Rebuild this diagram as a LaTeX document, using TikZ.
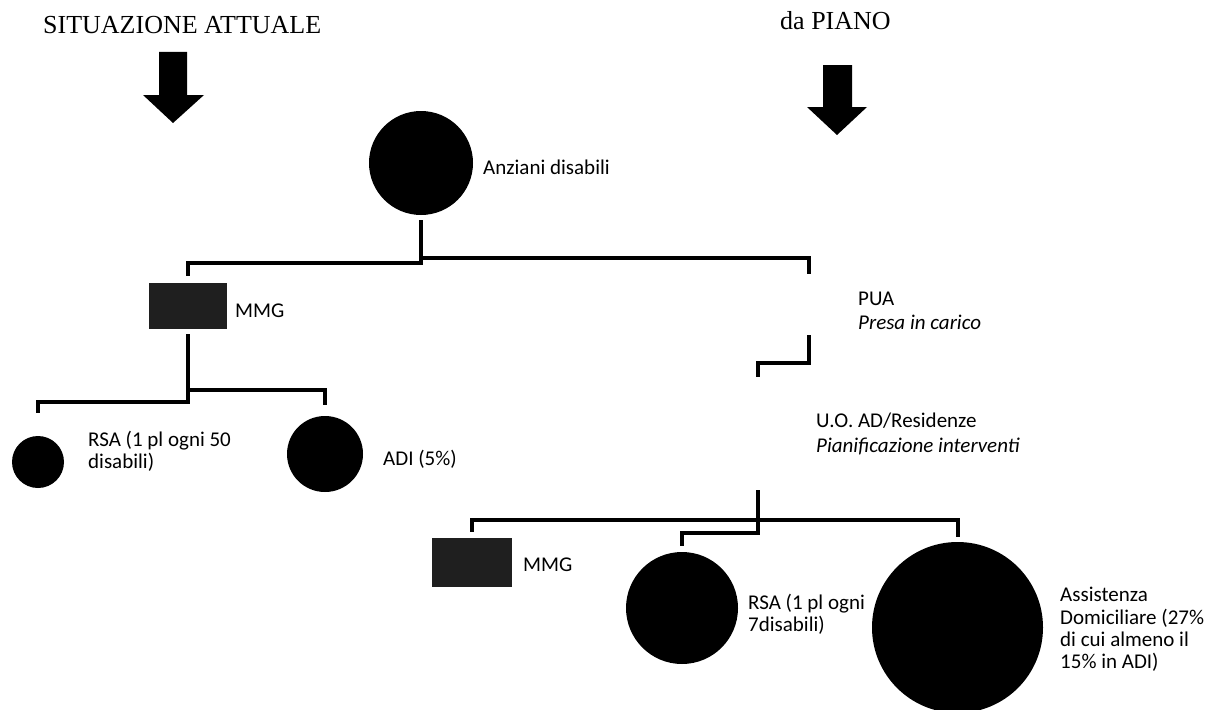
\documentclass[tikz,border=0pt]{standalone}
\usepackage{fontspec}
\setmainfont{Liberation Serif}
\newfontfamily\calib{Carlito}
\begin{document}
\begin{tikzpicture}[x=1pt,y=-1pt,
  conn/.style={line width=4pt, line join=miter},
  dot/.style={circle, fill=black, inner sep=0pt, minimum size=#1},
  ghost/.style={circle, draw=none, inner sep=0pt, minimum size=#1},
  box/.style={rectangle, fill=black!88, inner sep=0pt, minimum width=78pt, minimum height=46pt},
  lbl/.style={font=\calib\fontsize{21}{22}\selectfont, inner sep=0pt, align=left},
  ttl/.style={font=\fontsize{26}{30}\selectfont, inner sep=0pt}]
\useasboundingbox (0,0) rectangle (1206,709);

% titles and big arrows
\node[ttl, anchor=base west] (t1) at (43,34) {SITUAZIONE ATTUALE};
\node[ttl, anchor=base west] (t2) at (780,30) {da PIANO};
\fill (159,52) -- (187,52) -- (187,95) -- (204,95) -- (173,123) -- (143,95) -- (159,95) -- cycle;
\fill (823,65) -- (852,65) -- (852,107) -- (867,107) -- (837,135) -- (807,107) -- (823,107) -- cycle;

% nodes
\node[dot=104pt] (anz) at (421,163) {};
\node[lbl, anchor=base west] (anzt) at (483,174.5) {Anziani disabili};
\node[box] (mmg1) at (188,305.5) {};
\node[lbl, anchor=base west] (mmg1t) at (235,317.5) {MMG};
\node[dot=52pt] (rsa1) at (38,462) {};
\node[lbl, anchor=west] (rsa1t) at (88,451.5) {RSA (1 pl ogni 50\\disabili)};
\node[dot=76pt] (adi) at (325,454) {};
\node[lbl, anchor=base west] (adit) at (383,465.5) {ADI (5\%)};
\node[ghost=60pt] (pua) at (809,305) {};
\node[lbl, anchor=west] (puat) at (858,310.5) {PUA\\[2pt]\textit{Presa in carico}};
\node[ghost=113pt] (uo) at (758,433.5) {};
\node[lbl, anchor=west] (uot) at (816,434) {U.O. AD/Residenze\\[3pt]\textit{Pianificazione interventi}};
\node[box, minimum width=80pt, minimum height=49pt] (mmg2) at (472,562.5) {};
\node[lbl, anchor=base west] (mmg2t) at (523,571.5) {MMG};
\node[dot=112pt] (rsa2) at (682,608) {};
\node[lbl, anchor=west] (rsa2t) at (748,614.5) {RSA (1 pl ogni\\7disabili)};
\node[dot=171pt] (ad) at (957.5,627.5) {};
\node[lbl, anchor=west] (adt) at (1060,629) {Assistenza\\[0.5pt]Domiciliare (27\%\\di cui almeno il\\15\% in ADI)};

% elbow levels
\coordinate (e1) at (421,263);
\coordinate (e2) at (421,258);
\coordinate (e3) at (188,402);
\coordinate (e4) at (188,390);
\coordinate (e5) at (809,363);
\coordinate (e6) at (759,520);
\coordinate (e7) at (759,533);

% connectors
\draw[conn, shorten <=5pt, shorten >=6pt] (anz.south) -- (anz.south |- e1) -| (mmg1.north);
\draw[conn, shorten <=5pt, shorten >=1pt] (anz.south) -- (anz.south |- e2) -| (pua.north);
\draw[conn, shorten <=5.5pt, shorten >=23pt] (mmg1.south) -- (mmg1.south |- e3) -| (rsa1.north);
\draw[conn, shorten <=5.5pt, shorten >=11pt] (mmg1.south) -- (mmg1.south |- e4) -| (adi.north);
\draw[conn] (pua.south) -- (pua.south |- e5) -| (uo.north);
\draw[conn, shorten >=6pt] (uo.south) -- (uo.south |- e6) -| (mmg2.north);
\draw[conn, shorten >=5pt] (uo.south) -- (uo.south |- e6) -| (ad.north);
\draw[conn, shorten >=6pt] (uo.south) -- (uo.south |- e7) -| (rsa2.north);
\end{tikzpicture}
\end{document}
